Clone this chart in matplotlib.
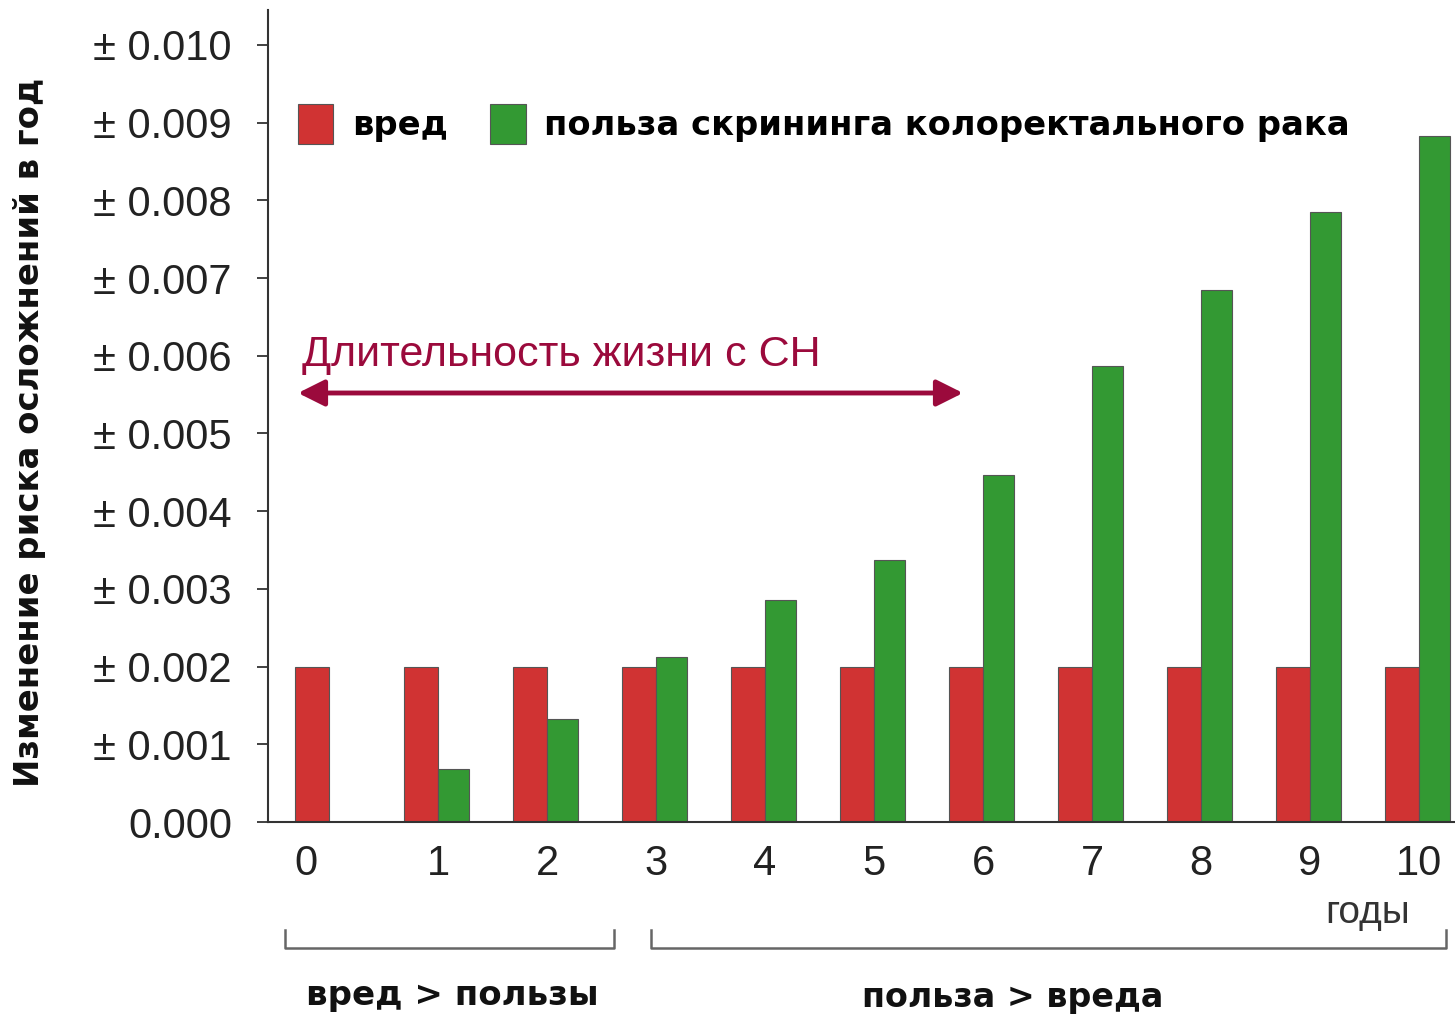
import numpy as np
import matplotlib
matplotlib.use("Agg")
import matplotlib.pyplot as plt
from matplotlib.patches import Patch
from matplotlib.lines import Line2D

# --- data ------------------------------------------------------------------
years = [0, 1, 2, 3, 4, 5, 6, 7, 8, 9, 10]
harm = [0.0020, 0.0020, 0.0020, 0.0020, 0.0020, 0.0020,
        0.0020, 0.0020, 0.0020, 0.0020, 0.0020]
benefit = [0.0, 0.00068, 0.00133, 0.00212, 0.00286, 0.00337,
           0.00447, 0.00587, 0.00685, 0.00785, 0.00883]
yticks = [0.000, 0.001, 0.002, 0.003, 0.004, 0.005,
          0.006, 0.007, 0.008, 0.009, 0.010]
ytick_labels = ["0.000"] + [f"\u00b1 {v:.3f}" for v in yticks[1:]]
xtick_labels = [str(y) for y in years]

RED = "#d03333"
GREEN = "#339933"
WINE = "#9b0a3c"
SANS = ["Liberation Sans", "DejaVu Sans"]

W, H = 1455, 1017
fig = plt.figure(figsize=(W / 100, H / 100), dpi=100)
ax = fig.add_axes([268 / W, 1 - 822 / H, (W - 268) / W, (822 - 10) / H])

x = np.array(years, dtype=float)
wr, wg = 0.31, 0.28
ax.bar(x - wr, harm, width=wr, align="edge", color=RED,
       edgecolor="#555555", linewidth=0.8)
ax.bar(x, benefit, width=wg, align="edge", color=GREEN,
       edgecolor="#555555", linewidth=0.8)

ax.set_xlim(-0.56, 10.33)
ax.set_ylim(0, 0.01045)

for s in ["top", "right"]:
    ax.spines[s].set_visible(False)
for s in ["left", "bottom"]:
    ax.spines[s].set_color("#333333")
    ax.spines[s].set_linewidth(1.5)

ax.set_yticks(yticks)
ax.set_yticklabels(ytick_labels, family=SANS, fontsize=30, color="#222222")
ax.tick_params(axis="y", length=8, width=1.3, color="#333333", pad=18)

xt = x.copy()
xt[0] = x[0] - 0.21
ax.set_xticks(xt)
ax.set_xticklabels(xtick_labels, family=SANS, fontsize=30, color="#222222")
ax.tick_params(axis="x", length=0, pad=16)

fig.text(30 / W, 1 - 432 / H, "Изменение риска осложнений в год",
         rotation=90, ha="center", va="center", fontsize=24.4,
         fontweight="bold", color="#111111")

handles = [Patch(facecolor=RED, edgecolor="#555555", linewidth=0.8),
           Patch(facecolor=GREEN, edgecolor="#555555", linewidth=0.8)]
ax.legend(handles, ["вред", "польза скрининга колоректального рака"],
          loc="upper left", bbox_to_anchor=(298 / W, 1 - 104 / H),
          bbox_transform=fig.transFigure, ncol=2, frameon=False,
          prop={"weight": "bold", "size": 24.3}, handlelength=1.05,
          handleheight=1.45, handletextpad=0.55, columnspacing=1.25,
          borderpad=0, borderaxespad=0)

# lifetime annotation
ax.annotate("", xy=(963 / W, 1 - 393 / H), xytext=(298 / W, 1 - 393 / H),
            xycoords=fig.transFigure, textcoords=fig.transFigure,
            arrowprops=dict(arrowstyle="<|-|>", color=WINE, lw=3.5,
                            mutation_scale=40, shrinkA=0, shrinkB=0))
fig.text(302 / W, 1 - 355 / H, "Длительность жизни с СН", ha="left",
         va="center", fontsize=31, color=WINE, family=SANS)

fig.text(1368 / W, 1 - 913 / H, "годы", ha="center", va="center",
         fontsize=28, color="#333333", family=SANS)

# brackets under the axis
def bracket(x0, x1, y, top):
    xs = np.array([x0, x0, x1, x1]) / W
    ys = 1 - np.array([top, y, y, top]) / H
    fig.add_artist(Line2D(xs, ys, color="#666666", lw=1.8,
                          transform=fig.transFigure))

bracket(285, 614, 948, 930)
bracket(651, 1446, 948, 930)

fig.text(452 / W, 1 - 995 / H, "вред > пользы", ha="center", va="center",
         fontsize=24.5, fontweight="bold", color="#111111")
fig.text(1013 / W, 1 - 998 / H, "польза > вреда", ha="center", va="center",
         fontsize=24, fontweight="bold", color="#111111")

fig.savefig("out.png", dpi=100)
